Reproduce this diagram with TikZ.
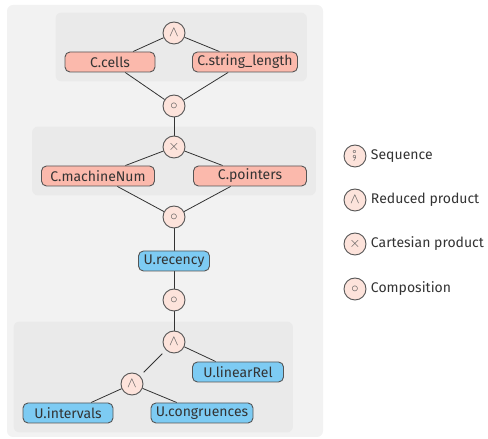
\documentclass[tikz,border=0pt]{standalone}
\usepackage{fontspec}
\usepackage{stmaryrd}
\setmainfont{Fira Sans}
\usetikzlibrary{shapes, positioning, fit, backgrounds}

\definecolor{cfill}{HTML}{FBB9AC}
\definecolor{ufill}{HTML}{7DCBF3}
\definecolor{opfill}{HTML}{FDE3DB}
\definecolor{edgegray}{HTML}{555555}
\definecolor{txtgray}{HTML}{333333}
\definecolor{outerbg}{HTML}{F2F2F2}
\definecolor{groupbg}{HTML}{EAEAEA}

\tikzset{
  dom/.style={rectangle, rounded corners=5pt, draw=edgegray, line width=0.9pt, text=txtgray, minimum height=20pt, inner sep=2pt},
  cdom/.style={dom, fill=cfill},
  udom/.style={dom, fill=ufill},
  op/.style={circle, draw=edgegray, line width=0.9pt, fill=opfill, text=edgegray, minimum size=22pt, inner sep=0pt},
  group/.style={rectangle, rounded corners=6pt, fill=groupbg, inner sep=9pt},
  link/.style={draw=txtgray, line width=0.8pt}
}

\begin{document}
\begin{tikzpicture}[x=1pt, y=1pt, on grid, font=\fontsize{14}{16}\selectfont]
        \useasboundingbox (0,0) rectangle (488,439);

        % Top group
        \node[op] (andTop) at (174,406) {$\wedge$};
        \node[cdom, minimum width=90pt, below left=29pt and 64pt of andTop] (cells) {C.cells};
        \node[cdom, minimum width=105pt, below right=29pt and 71pt of andTop] (strlen) {C.string\_length};
        \node[op, below=73pt of andTop] (compA) {$\circ$};

        % Middle group
        \node[op, below=41pt of compA] (times) {$\times$};
        \node[cdom, minimum width=113pt, below left=29pt and 76pt of times] (machine) {C.machineNum};
        \node[cdom, minimum width=113pt, below right=29pt and 76pt of times] (pointers) {C.pointers};
        \node[op, below=70pt of times] (compB) {$\circ$};

        % Chain
        \node[udom, minimum width=71pt, below=44pt of compB] (recency) {U.recency};
        \node[op, below=39pt of recency] (compC) {$\circ$};

        % Bottom group
        \node[op, below=42pt of compC] (andBot) {$\wedge$};
        \node[udom, minimum width=91pt, below right=30pt and 64pt of andBot] (linear) {U.linearRel};
        \node[op, below left=42pt and 42pt of andBot] (andSmall) {$\wedge$};
        \node[udom, minimum width=90pt, below left=29pt and 64pt of andSmall] (intervals) {U.intervals};
        \node[udom, minimum width=102pt, below right=29pt and 70pt of andSmall] (congr) {U.congruences};

        % Backgrounds and connections
        \begin{scope}[on background layer]
          \fill[outerbg, rounded corners=6pt] (7,2) rectangle (323,434);
          \node[group, fit=(andTop)(cells)(strlen)] (topGroup) {};
          \node[group, fit=(times)(machine)(pointers)] (midGroup) {};
          \node[group, fit=(andBot)(linear)(intervals)(congr)] (botGroup) {};

          \draw[link] (andTop) -- (cells);
          \draw[link] (andTop) -- (strlen);
          \draw[link] (cells) -- (compA);
          \draw[link] (strlen) -- (compA);
          \draw[link] (compA) -- (times);
          \draw[link] (times) -- (machine);
          \draw[link] (times) -- (pointers);
          \draw[link] (machine) -- (compB);
          \draw[link] (pointers) -- (compB);
          \draw[link] (compB) -- (recency);
          \draw[link] (recency) -- (compC);
          \draw[link] (compC) -- (andBot);
          \draw[link] (andBot) -- (linear);
          \draw[link, shorten <=5pt, shorten >=5pt] (andBot) -- (andSmall);
          \draw[link] (andSmall) -- (intervals);
          \draw[link] (andSmall) -- (congr);
        \end{scope}

        % Legend
        \node[op] (legSeq) at (355,283) {\Large$\fatsemi$};
        \node[op, below=44pt of legSeq] (legRed) {$\wedge$};
        \node[op, below=44pt of legRed] (legCart) {$\times$};
        \node[op, below=45pt of legCart] (legComp) {$\circ$};
        \node[anchor=west, text=txtgray] (txtSeq) at ([xshift=1pt]legSeq.east) {Sequence};
        \node[anchor=west, text=txtgray] (txtRed) at ([xshift=1pt]legRed.east) {Reduced product};
        \node[anchor=west, text=txtgray] (txtCart) at ([xshift=1pt]legCart.east) {Cartesian product};
        \node[anchor=west, text=txtgray] (txtComp) at ([xshift=1pt]legComp.east) {Composition};
    \end{tikzpicture}
\end{document}
